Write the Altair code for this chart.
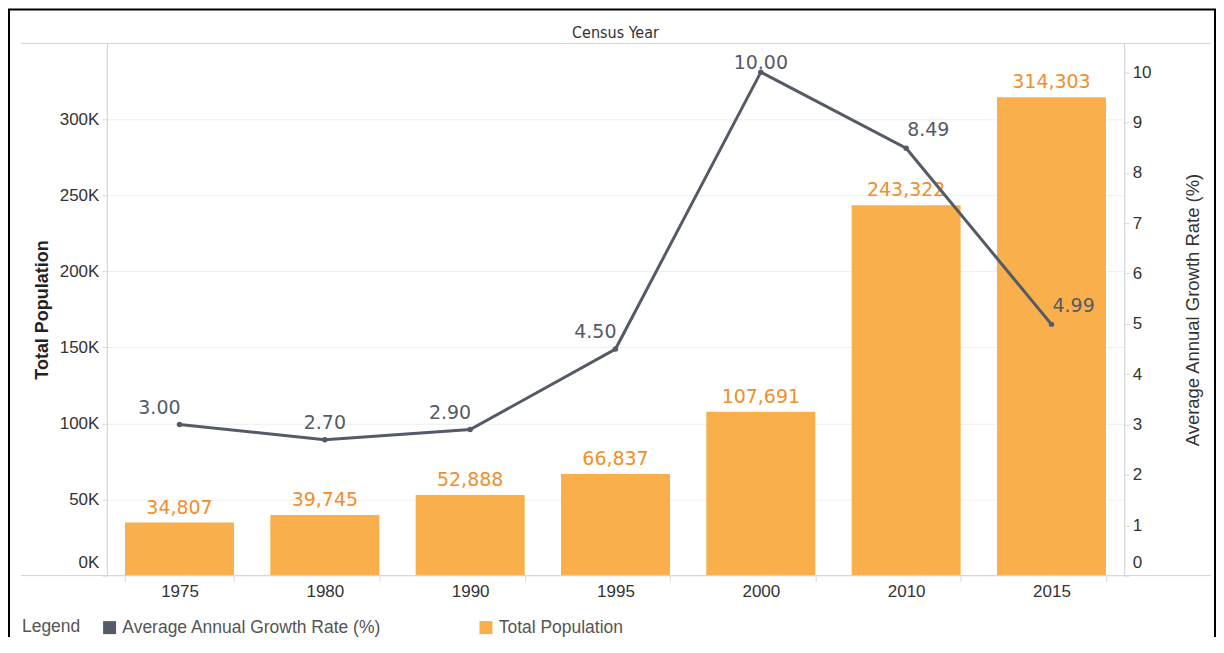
import altair as alt
import pandas as pd

years = ["1975", "1980", "1990", "1995", "2000", "2010", "2015"]
population = [34807, 39745, 52888, 66837, 107691, 243322, 314303]
growth = [3.00, 2.70, 2.90, 4.50, 10.00, 8.49, 4.99]
pop_ticks = [0, 50000, 100000, 150000, 200000, 250000, 300000]
growth_ticks = [0, 1, 2, 3, 4, 5, 6, 7, 8, 9, 10]
label_left = ["1975", "1990", "1995"]
label_center = ["1980"]
label_top = ["2000"]
label_right = ["2010", "2015"]

POP = "Total Population"
GR = "Average Annual Growth Rate (%)"
BAR = "#F9AF4C"
BAR_TXT = "#F28E2B"
GREY = "#555B66"
SANS = "Liberation Sans, Arial, sans-serif"
VALUE = "DejaVu Sans, Verdana, sans-serif"
NARROW = "DejaVu Sans Condensed, Liberation Sans Narrow, Arial Narrow, sans-serif"

df = pd.DataFrame({"year": years, "pop": population, "growth": growth})
df["series"] = POP
df["pop_label"] = [f"{v:,}" for v in population]
df["gr_label"] = [f"{v:.2f}" for v in growth]

x_axis = alt.Axis(title=None, labelAngle=0, labelFont=SANS, labelFontSize=17,
                  labelColor="#333333", labelPadding=2, tickBand="extent", tickSize=6,
                  tickColor="#d9d9d9", domain=False, grid=False)
x_scale = alt.Scale(paddingInner=0.25, paddingOuter=0.125)
x_enc = alt.X("year:N", sort=years, scale=x_scale, axis=x_axis)

y_pop = alt.Y(
    "pop:Q",
    scale=alt.Scale(domain=[0, 349700], nice=False, zero=True),
    axis=alt.Axis(orient="left", title=POP, values=pop_ticks,
                  labelExpr="datum.value / 1000 + 'K'", labelFont=SANS, labelFontSize=17,
                  labelColor="#333333", labelPadding=3, tickSize=5, tickColor="#d9d9d9",
                  domainColor="#d0d0d0", gridColor="#efefef", labelFlush=True,
                  labelFlushOffset=-4, titleFont=SANS, titleFontSize=18,
                  titleFontWeight="bold", titleColor="#222222", titlePadding=8),
)
y_gr = alt.Y(
    "growth:Q",
    scale=alt.Scale(domain=[0, 10.57], nice=False, zero=True),
    axis=alt.Axis(orient="right", title=GR, values=growth_ticks, format="d",
                  labelFont=SANS, labelFontSize=17, labelColor="#333333", labelPadding=3,
                  tickSize=5, tickColor="#d9d9d9", domainColor="#d0d0d0", grid=False,
                  labelFlush=True, labelFlushOffset=-4, titleFont=SANS, titleFontSize=18.5,
                  titleFontWeight="normal", titleColor="#333333", titleAngle=270,
                  titlePadding=52),
)

base = alt.Chart(df)

bars = base.mark_bar().encode(
    x=x_enc, y=y_pop,
    color=alt.Color("series:N",
                    scale=alt.Scale(domain=[GR, POP], range=[GREY, BAR]),
                    legend=alt.Legend(orient="none", legendX=-85, legendY=576,
                                      direction="horizontal", title="Legend",
                                      titleOrient="left", titleFont=SANS,
                                      titleFontSize=17.5, titleFontWeight="normal",
                                      titleColor="#555555", titlePadding=20,
                                      labelFont=SANS, labelFontSize=17.5,
                                      labelColor="#555555", labelLimit=400,
                                      labelOffset=4, symbolType="square",
                                      symbolSize=169, symbolStrokeWidth=0,
                                      columnPadding=96)),
)
bar_text = base.mark_text(font=VALUE, fontSize=19, color=BAR_TXT, baseline="alphabetic",
                          dy=-9).encode(x=x_enc, y=y_pop, text="pop_label:N")
left = alt.layer(bars, bar_text)

line = base.mark_line(color=GREY, strokeWidth=3).encode(x=x_enc, y=y_gr)
pts = base.mark_circle(color=GREY, size=30, opacity=1).encode(x=x_enc, y=y_gr)


def glabels(lst, align, dx, dy):
    return base.mark_text(font=VALUE, fontSize=19, color=GREY, align=align,
                          baseline="alphabetic", dx=dx, dy=dy).encode(
        x=x_enc, y=y_gr, text="gr_label:N"
    ).transform_filter(alt.FieldOneOfPredicate(field="year", oneOf=lst))


right = alt.layer(line, pts,
                  glabels(label_left, "right", 1, -11),
                  glabels(label_center, "center", 0, -11),
                  glabels(label_top, "center", 0, -3),
                  glabels(label_right, "left", 1, -12))

one = alt.Chart(pd.DataFrame({"k": [0]}))
header_line = one.mark_rule(color="#d4d4d4", strokeWidth=1).encode(
    x=alt.value(-86), x2=alt.value(1106), y=alt.value(0))
base_line = one.mark_rule(color="#d4d4d4", strokeWidth=1).encode(
    x=alt.value(-86), x2=alt.value(1106), y=alt.value(533))
header = one.mark_text(text="Census Year", font=NARROW, fontSize=16,
                       color="#333333").encode(x=alt.value(509.5), y=alt.value(-10))
border = one.mark_rect(fillOpacity=0, stroke="black", strokeWidth=2).encode(
    x=alt.value(-98), x2=alt.value(1110), y=alt.value(-34), y2=alt.value(640))
deco = alt.layer(header_line, base_line, header, border)

chart = alt.layer(left, right, deco).resolve_scale(y="independent").properties(
    width=1019, height=533,
    padding={"left": 99, "top": 35, "right": 92, "bottom": 61},
    autosize=alt.AutoSizeParams(type="none"),
    background="white",
).configure_view(stroke=None)

chart.save("out.html", embed_options={"renderer": "svg", "actions": False})
